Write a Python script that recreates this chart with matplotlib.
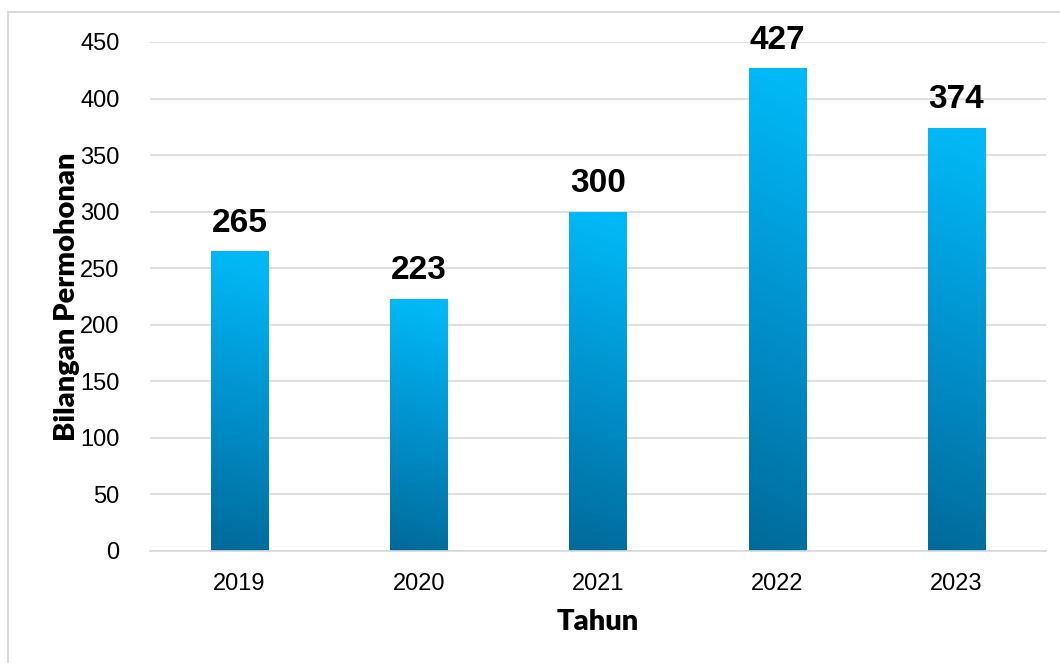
import numpy as np
import matplotlib.pyplot as plt
from matplotlib.colors import LinearSegmentedColormap
from matplotlib.patches import Rectangle

years = ["2019", "2020", "2021", "2022", "2023"]
counts = [265, 223, 300, 427, 374]
yticks = [0, 50, 100, 150, 200, 250, 300, 350, 400, 450]

fig = plt.figure(figsize=(10.6, 6.63), dpi=100)
ax = fig.add_axes([0.1415, 0.169, 0.8453, 0.7677])

# light grey frame round the whole chart
fig.patches.append(Rectangle((8 / 1060, -0.05), 1.1, 1 - 12 / 663 + 0.05,
                             transform=fig.transFigure, fill=False,
                             edgecolor="#D9D9D9", linewidth=1.5, zorder=0))

cmap = LinearSegmentedColormap.from_list("blues", ["#006A99", "#0090CC", "#00B8F5"])
width = 0.32
x = np.arange(len(years))

bars = ax.bar(x, counts, width=width, color="none", zorder=2)
gx, gy = np.meshgrid(np.linspace(0, 1, 40), np.linspace(0, 1, 200))
grad = np.clip(gy + 0.06 * gx, 0, 1)
for b in bars:
    x0, w, h = b.get_x(), b.get_width(), b.get_height()
    im = ax.imshow(grad, cmap=cmap, origin="lower", aspect="auto",
                   extent=[x0, x0 + w, 0, h], zorder=2, vmin=0, vmax=1)
    im.set_clip_path(b)

for xi, v in zip(x, counts):
    ax.text(xi, v + 11, str(v), ha="center", va="bottom",
            fontsize=24, fontweight="bold", family="Liberation Sans")

ax.set_xlim(-0.5, len(years) - 0.5)
ax.set_ylim(0, 450)
ax.set_yticks(yticks)
ax.set_xticks(x)
ax.set_xticklabels(years)
ax.tick_params(axis="both", length=0, labelsize=17)
ax.tick_params(axis="y", pad=22)
ax.tick_params(axis="x", pad=16)
for lbl in ax.get_xticklabels() + ax.get_yticklabels():
    lbl.set_family("Liberation Sans")

ax.yaxis.grid(True, color="#D9D9D9", linewidth=1.2, zorder=0)
ax.set_axisbelow(True)
for s in ["top", "right", "left"]:
    ax.spines[s].set_visible(False)
ax.spines["bottom"].set_color("#D9D9D9")
ax.spines["bottom"].set_linewidth(1.2)

ax.set_xlabel("Tahun", fontsize=21, fontweight="heavy", family="Lato", labelpad=10)
ax.set_ylabel("Bilangan Permohonan", fontsize=21, fontweight="heavy", family="Lato", labelpad=0)

fig.savefig("out.png", dpi=100)
